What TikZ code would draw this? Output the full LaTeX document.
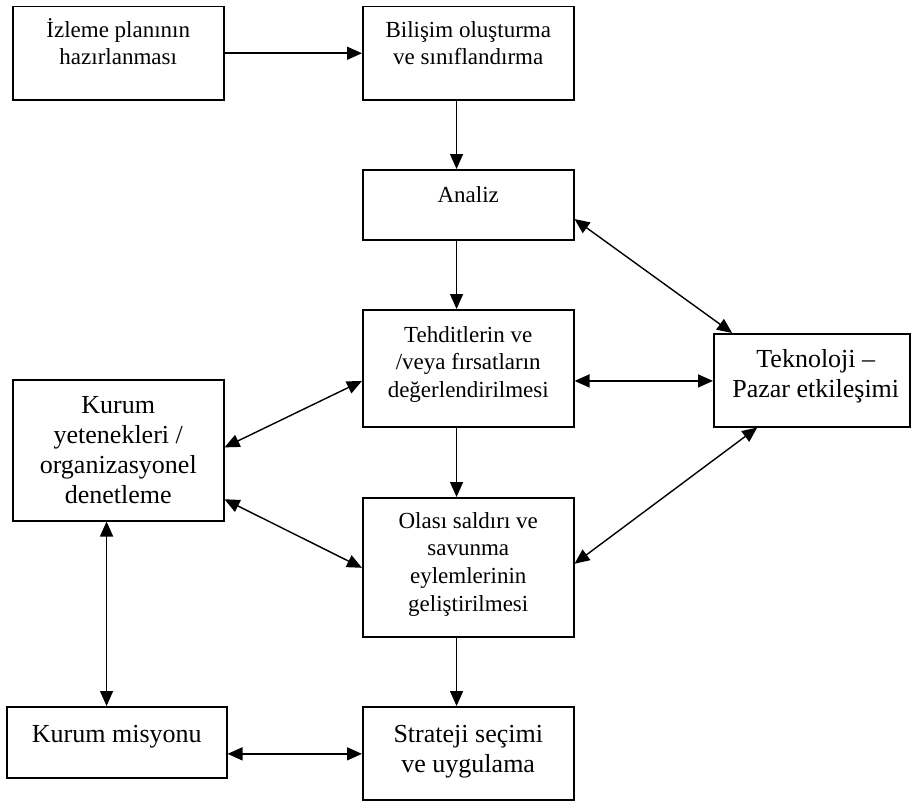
\documentclass[tikz,border=0pt]{standalone}
\usepackage{fontspec}
\setmainfont{Liberation Serif}
\usetikzlibrary{arrows.meta,calc}
\begin{document}
\begin{tikzpicture}[x=1pt,y=-1pt,
  stage/.style={draw, line width=1.5pt, rectangle, inner sep=0pt, anchor=north west},
  small/.style={font=\fontsize{23}{27.7}\selectfont},
  large/.style={font=\fontsize{26}{30}\selectfont},
  caption/.style={anchor=north, inner sep=0pt, align=center},
  tip/.tip={Triangle[length=15pt,width=13pt]},
  link/.style={line width=1.5pt, -tip},
  both/.style={line width=1.4pt, tip-tip},
]
\useasboundingbox (0,0) rectangle (912,800);

% boxes
\node[stage, minimum width=211pt, minimum height=93pt]  (izleme)   at (12,6)    {};
\node[stage, minimum width=211pt, minimum height=93pt]  (bilisim)  at (362,6)   {};
\node[stage, minimum width=211pt, minimum height=70pt]  (analiz)   at (362,169) {};
\node[stage, minimum width=211pt, minimum height=117pt] (tehdit)   at (362,309) {};
\node[stage, minimum width=211pt, minimum height=139pt] (olasi)    at (362,497) {};
\node[stage, minimum width=211pt, minimum height=93pt]  (strateji) at (362,706) {};
\node[stage, minimum width=211pt, minimum height=141pt] (yetenek)  at (12,379)  {};
\node[stage, minimum width=220pt, minimum height=71pt]  (misyon)   at (6,706)   {};
\node[stage, minimum width=196pt, minimum height=93pt]  (tekno)    at (713,333) {};

% box texts
\node[caption, small] (izleme-t)   at ($(izleme.north)+(0,11.6)$)   {\strut İzleme planının\\hazırlanması};
\node[caption, small] (bilisim-t)  at ($(bilisim.north)+(0,11.6)$)  {\strut Bilişim oluşturma\\ve sınıflandırma};
\node[caption, small] (analiz-t)   at ($(analiz.north)+(0,13.6)$)   {\strut Analiz};
\node[caption, small] (tehdit-t)   at ($(tehdit.north)+(0,13.6)$)   {\strut Tehditlerin ve\\/veya fırsatların\\değerlendirilmesi};
\node[caption, small] (olasi-t)    at ($(olasi.north)+(0,11.6)$)    {\strut Olası saldırı ve\\savunma\\eylemlerinin\\geliştirilmesi};
\node[caption, large] (strateji-t) at ($(strateji.north)+(0,15)$)   {\strut Strateji seçimi\\ve uygulama};
\node[caption, large] (yetenek-t)  at ($(yetenek.north)+(0,13)$)    {\strut Kurum\\yetenekleri /\\organizasyonel\\denetleme};
\node[caption, large] (misyon-t)   at ($(misyon.north)+(0,15)$)     {\strut Kurum misyonu};
\node[caption, large] (tekno-t)    at ($(tekno.north)+(4,13)$)      {\strut Teknoloji –\\Pazar etkileşimi};

% main flow
\draw[link] (izleme.east) -- (bilisim.west);
\coordinate (colx) at ($(bilisim.south west)!0.445!(bilisim.south east)$);
\draw[link] (colx) -- (analiz.north -| colx);
\draw[link] (analiz.south -| colx) -- (tehdit.north -| colx);
\draw[link] (tehdit.south -| colx) -- (olasi.north -| colx);
\draw[link] (olasi.south -| colx) -- (strateji.north -| colx);

% two-way links
\draw[both] ($(analiz.north east)!0.7!(analiz.south east)$) -- ($(tekno.north west)!0.097!(tekno.north east)$);
\coordinate (tehE) at ($(tehdit.north east)!0.607!(tehdit.south east)$);
\draw[both] (tehE) -- (tekno.west |- tehE);
\draw[both] ($(olasi.north east)!0.475!(olasi.south east)$) -- ($(tekno.south west)!0.224!(tekno.south east)$);
\draw[both] ($(yetenek.north east)!0.48!(yetenek.south east)$) -- ($(tehdit.north west)!0.607!(tehdit.south west)$);
\draw[both] ($(yetenek.north east)!0.844!(yetenek.south east)$) -- ($(olasi.north west)!0.504!(olasi.south west)$);
\coordinate (yetS) at ($(yetenek.south west)!0.445!(yetenek.south east)$);
\draw[both] (yetS) -- (misyon.north -| yetS);
\coordinate (misE) at ($(misyon.north east)!0.66!(misyon.south east)$);
\draw[both] (misE) -- (strateji.west |- misE);
\end{tikzpicture}
\end{document}
